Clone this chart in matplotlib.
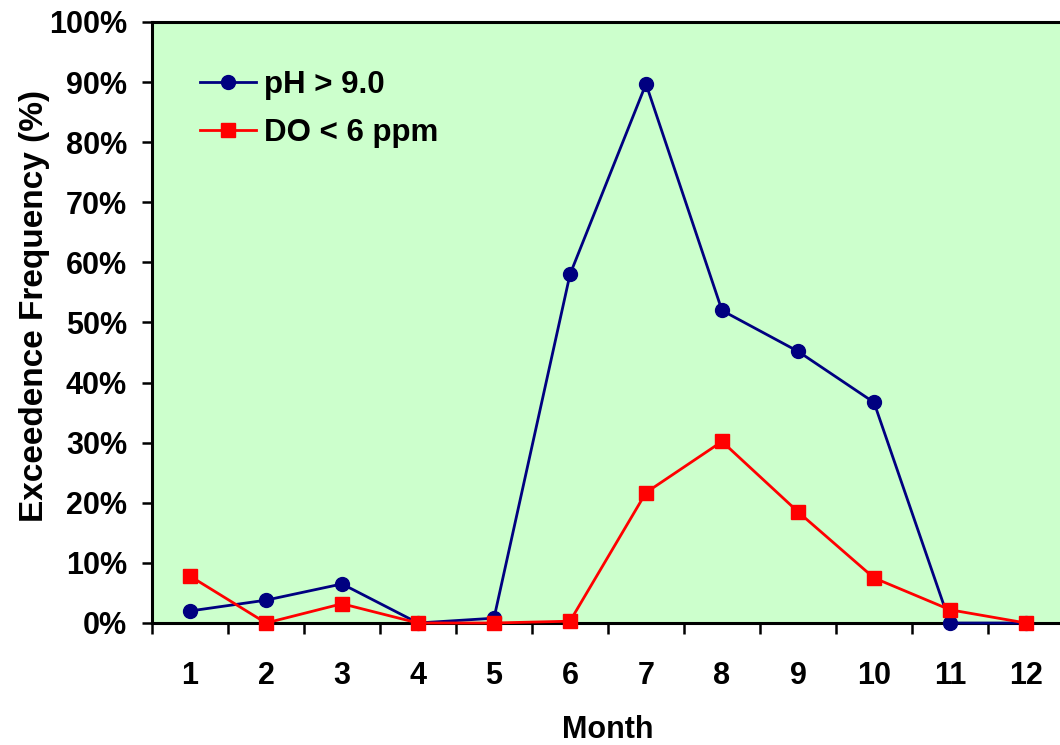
import numpy as np
import matplotlib.pyplot as plt
from matplotlib.ticker import FixedLocator, PercentFormatter

months = np.arange(1, 13)
ph_over_9 = [2.0, 3.8, 6.5, 0.0, 0.8, 58.0, 89.7, 52.0, 45.2, 36.7, 0.0, 0.0]
do_under_6 = [7.8, 0.0, 3.2, 0.0, 0.0, 0.3, 21.7, 30.2, 18.5, 7.5, 2.2, 0.0]

plt.rcParams['font.family'] = ['Liberation Sans', 'DejaVu Sans']
plt.rcParams['font.weight'] = 'bold'

fig = plt.figure(figsize=(10.6, 7.45), dpi=100)
ax = fig.add_axes([152/1060, 1-623/745, 912/1060, 601/745])
ax.set_facecolor('#CCFFCC')

ax.plot(months, ph_over_9, color='#000080', lw=2.0, marker='o', ms=10,
        label='pH > 9.0', clip_on=False, zorder=3)
ax.plot(months, do_under_6, color='#FF0000', lw=2.0, marker='s', ms=10.5,
        label='DO < 6 ppm', clip_on=False, zorder=4)

ax.set_xlim(0.5, 12.5)
ax.set_ylim(0, 100)
ax.xaxis.set_major_locator(FixedLocator(np.arange(0.5, 13, 1)))
ax.xaxis.set_minor_locator(FixedLocator(months))
ax.set_xticklabels([])
ax.set_xticklabels([str(m) for m in months], minor=True)
ax.tick_params(axis='x', which='major', direction='out', length=8, width=1.8)
ax.tick_params(axis='x', which='minor', length=0, pad=27, labelsize=22)
ax.set_yticks(np.arange(0, 101, 10))
ax.yaxis.set_major_formatter(PercentFormatter(decimals=0))
ax.tick_params(axis='y', direction='out', length=7, width=1.8, labelsize=22, pad=11)

for s in ax.spines.values():
    s.set_linewidth(2.2)

ax.set_xlabel('Month', fontsize=22, fontweight='bold', labelpad=18)
ax.set_ylabel('Exceedence Frequency (%)', fontsize=24, fontweight='bold')
ax.yaxis.set_label_coords(-0.112, 0.527)

ax.legend(loc='upper left', bbox_to_anchor=(0.0526, 0.92), frameon=False,
          borderaxespad=0, borderpad=0, handlelength=1.8, handletextpad=0.25,
          labelspacing=0.56, prop={'weight': 'bold', 'size': 22.5})

fig.savefig('out.png', dpi=100)
